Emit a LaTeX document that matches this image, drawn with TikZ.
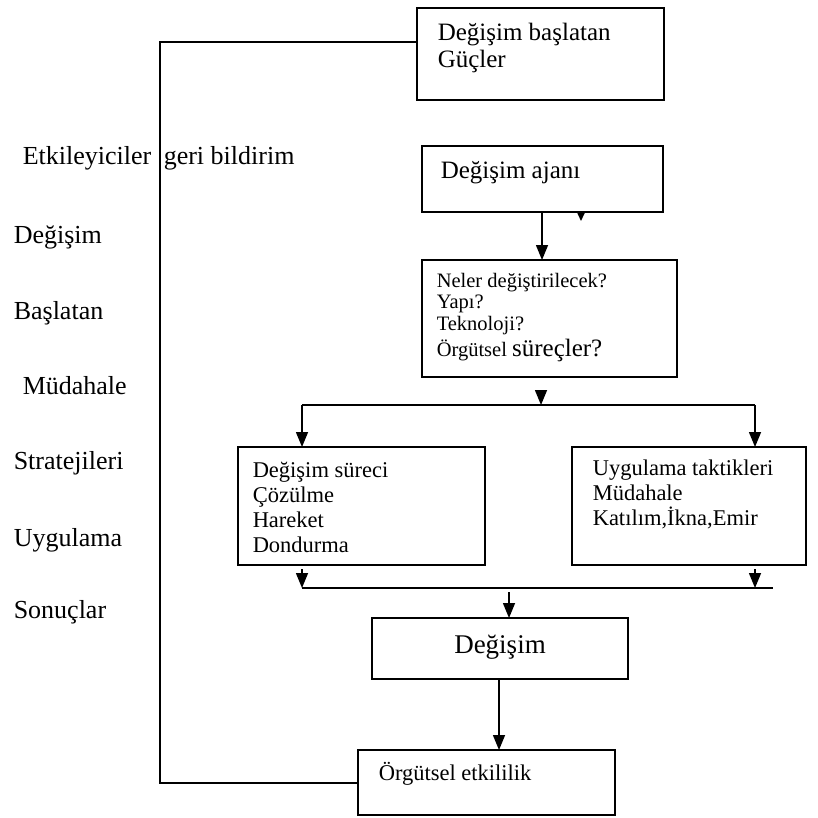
\documentclass[tikz,border=0pt]{standalone}
\usepackage{fontspec}
\setmainfont{Liberation Serif}
\usetikzlibrary{arrows.meta}
\begin{document}
\begin{tikzpicture}[x=1pt,y=-1pt,line width=1.5pt,
  box/.style={draw,rectangle,inner sep=0pt,outer sep=0pt,anchor=north west},
  txt/.style={inner sep=0pt,anchor=base west},
  side/.style={txt,font=\fontsize{26}{30}\selectfont},
  arr/.style={-{Triangle[length=15pt,width=12pt]}},
  stub/.style={-{Triangle[length=9pt,width=8pt]}}]
\useasboundingbox (0,0) rectangle (818,817);

% boxes
\node[box,minimum width=247pt,minimum height=92pt] (b1) at (417,8) {};
\node[box,minimum width=241pt,minimum height=66pt] (b2) at (422,146) {};
\node[box,minimum width=255pt,minimum height=117pt] (b3) at (422,260) {};
\node[box,minimum width=247pt,minimum height=118pt] (b4) at (238,447) {};
\node[box,minimum width=234pt,minimum height=118pt] (b5) at (572,447) {};
\node[box,minimum width=256pt,minimum height=61pt] (b7) at (372,618) {};
\node[box,minimum width=257pt,minimum height=65pt] (b6) at (358,750) {};

% box texts
\begin{scope}[font=\fontsize{25}{28}\selectfont]
\node[txt] (t1a) at (437,40) {Değişim başlatan};
\node[txt] (t1b) at (437,67) {Güçler};
\node[txt] (t2) at (440,178) {Değişim ajanı};
\end{scope}
\begin{scope}[font=\fontsize{20.5}{22}\selectfont]
\node[txt] (t3a) at (436,287) {Neler değiştirilecek?};
\node[txt] (t3b) at (436,308) {Yapı?};
\node[txt] (t3c) at (436,330) {Teknoloji?};
\node[txt] (t3d) at (436,356) {Örgütsel {\fontsize{25}{28}\selectfont süreçler?}};
\end{scope}
\begin{scope}[font=\fontsize{22.5}{25}\selectfont]
\node[txt] (t4a) at (252,477) {Değişim süreci};
\node[txt] (t4b) at (252,502) {Çözülme};
\node[txt] (t4c) at (252,527) {Hareket};
\node[txt] (t4d) at (252,552) {Dondurma};
\node[txt] (t5a) at (592,475) {Uygulama taktikleri};
\node[txt] (t5b) at (592,500) {Müdahale};
\node[txt] (t5c) at (592,525) {Katılım,İkna,Emir};
\node[txt] (t6) at (378,780) {Örgütsel etkililik};
\end{scope}
\node[inner sep=0pt,anchor=base,font=\fontsize{27}{30}\selectfont] (t7) at (500,653) {Değişim};

% side labels
\node[side] (s1) at (22,164) {Etkileyiciler\hspace{6pt} geri bildirim};
\node[side] (s2) at (13,243) {Değişim};
\node[side] (s3) at (13,319) {Başlatan};
\node[side] (s4) at (22,394) {Müdahale};
\node[side] (s5) at (13,469) {Stratejileri};
\node[side] (s6) at (13,546) {Uygulama};
\node[side] (s7) at (13,618) {Sonuçlar};

% feedback loop
\coordinate (fbTop) at (160,42);
\coordinate (fbBot) at (160,783);
\draw (b1.west |- fbTop) -- (fbTop) -- (fbBot) -- (b6.west |- fbBot);

% agent to question box
\coordinate (c1) at (542,0);
\draw[arr] (b2.south -| c1) -- (b3.north -| c1);
\coordinate (k2) at (581,221);
\draw[stub] (b2.south -| k2) -- (k2);

% split
\coordinate (sp0) at (541,390);
\coordinate (sp) at (541,405);
\coordinate (sL) at (302,405);
\coordinate (sR) at (755,405);
\draw[arr] (sp0) -- (sp);
\draw (sL) -- (sR);
\draw[arr] (sL) -- (b4.north -| sL);
\draw[arr] (sR) -- (b5.north -| sR);

% merge
\coordinate (aL) at (302,569);
\coordinate (aR) at (755,569);
\coordinate (mL) at (302,588);
\coordinate (mR) at (773,588);
\coordinate (mA) at (755,588);
\draw (mL) -- (mR);
\draw[arr] (aL) -- (mL);
\draw[arr] (aR) -- (mA);
\coordinate (m0) at (509,592);
\draw[arr] (m0) -- (b7.north -| m0);

% change to effectiveness
\coordinate (c2) at (499,0);
\draw[arr] (b7.south -| c2) -- (b6.north -| c2);
\end{tikzpicture}
\end{document}
